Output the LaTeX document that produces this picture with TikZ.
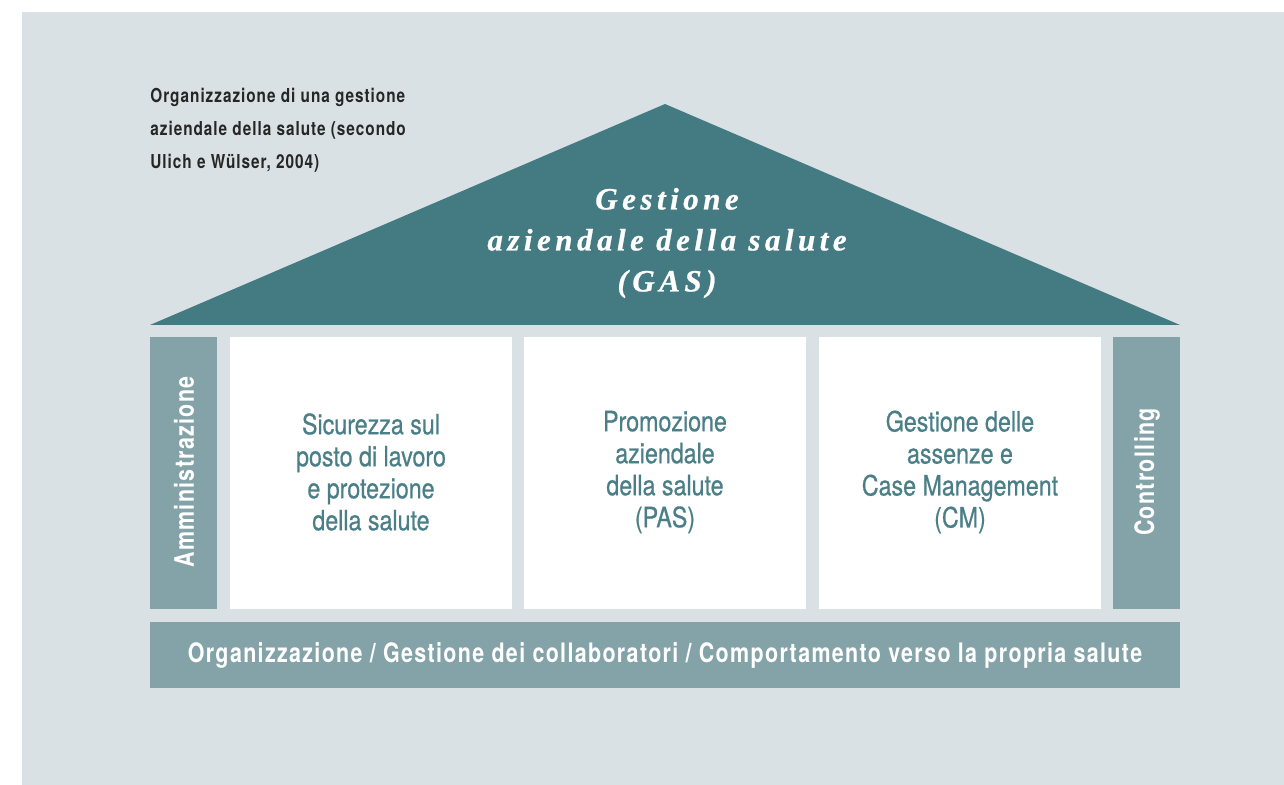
\documentclass[tikz,border=0pt]{standalone}
\usepackage{fontspec}
\setmainfont{TeX Gyre Heros}
\newfontfamily\condfont[FakeStretch=0.83,FakeBold=0.6]{TeX Gyre Heros}
\newfontfamily\condboldfont[FakeStretch=0.8,LetterSpace=5]{TeX Gyre Heros}
\newfontfamily\rooffont[LetterSpace=14.5,FakeBold=0.8]{Liberation Serif}
\usepackage{tikz}
\usetikzlibrary{positioning}

\definecolor{bggray}{HTML}{DAE1E4}
\definecolor{roofteal}{HTML}{447B83}
\definecolor{sidegray}{HTML}{84A3A9}
\definecolor{boxtext}{HTML}{4A7F87}

\tikzset{
  pillar/.style   ={fill=white},
  sidebar/.style  ={fill=sidegray},
  pillartext/.style={align=center,text=boxtext,
                     font=\condfont\fontsize{14}{16}\selectfont},
  sidetext/.style ={text=white,font=\condboldfont\bfseries\fontsize{13.4}{15}\selectfont},
}

\begin{document}
\begin{tikzpicture}[x=0.5pt,y=-0.5pt]
  \useasboundingbox (0,0) rectangle (1284,785);
  \fill[bggray] (22,12) rectangle (1284,785);

  % roof
  \fill[roofteal] (150,325) -- (665,104) -- (1180,325) -- cycle;
  \node (gas) [align=center,text=white,
               font=\rooffont\bfseries\itshape\fontsize{15.5}{20.5}\selectfont]
        at (667,243) {Gestione\\aziendale della salute\\(GAS)};

  % pillars
  \fill[sidebar] (150,337)  rectangle (217,609);
  \fill[pillar]  (230,337)  rectangle (512,609);
  \fill[pillar]  (524,337)  rectangle (806,609);
  \fill[pillar]  (819,337)  rectangle (1101,609);
  \fill[sidebar] (1113,337) rectangle (1180,609);
  \fill[sidebar] (150,622)  rectangle (1180,688);

  \node (adm)  [sidetext,rotate=90]  at (184,472)  {Amministrazione};
  \node (ctrl) [sidetext,rotate=90]  at (1147,472) {Controlling};
  \node (sic)  [pillartext]          at (371,472)  {Sicurezza sul\\posto di lavoro\\e protezione\\della salute};
  \node (pas)  [pillartext]          at (665,472)  {Promozione\\aziendale\\della salute\\(PAS)};
  \node (cm)   [pillartext]          at (960,472)  {Gestione delle\\assenze e\\Case Management\\(CM)};
  \node (base) [sidetext]            at (665,655)  {Organizzazione / Gestione dei collaboratori / Comportamento verso la propria salute};

  % caption
  \node (cap) [anchor=north west,align=left,inner sep=0pt,text=black!85,
               font=\condboldfont\bfseries\fontsize{9.6}{16.5}\selectfont]
        at (150,88) {Organizzazione di una gestione\\aziendale della salute (secondo\\Ulich e Wülser, 2004)};
\end{tikzpicture}
\end{document}
